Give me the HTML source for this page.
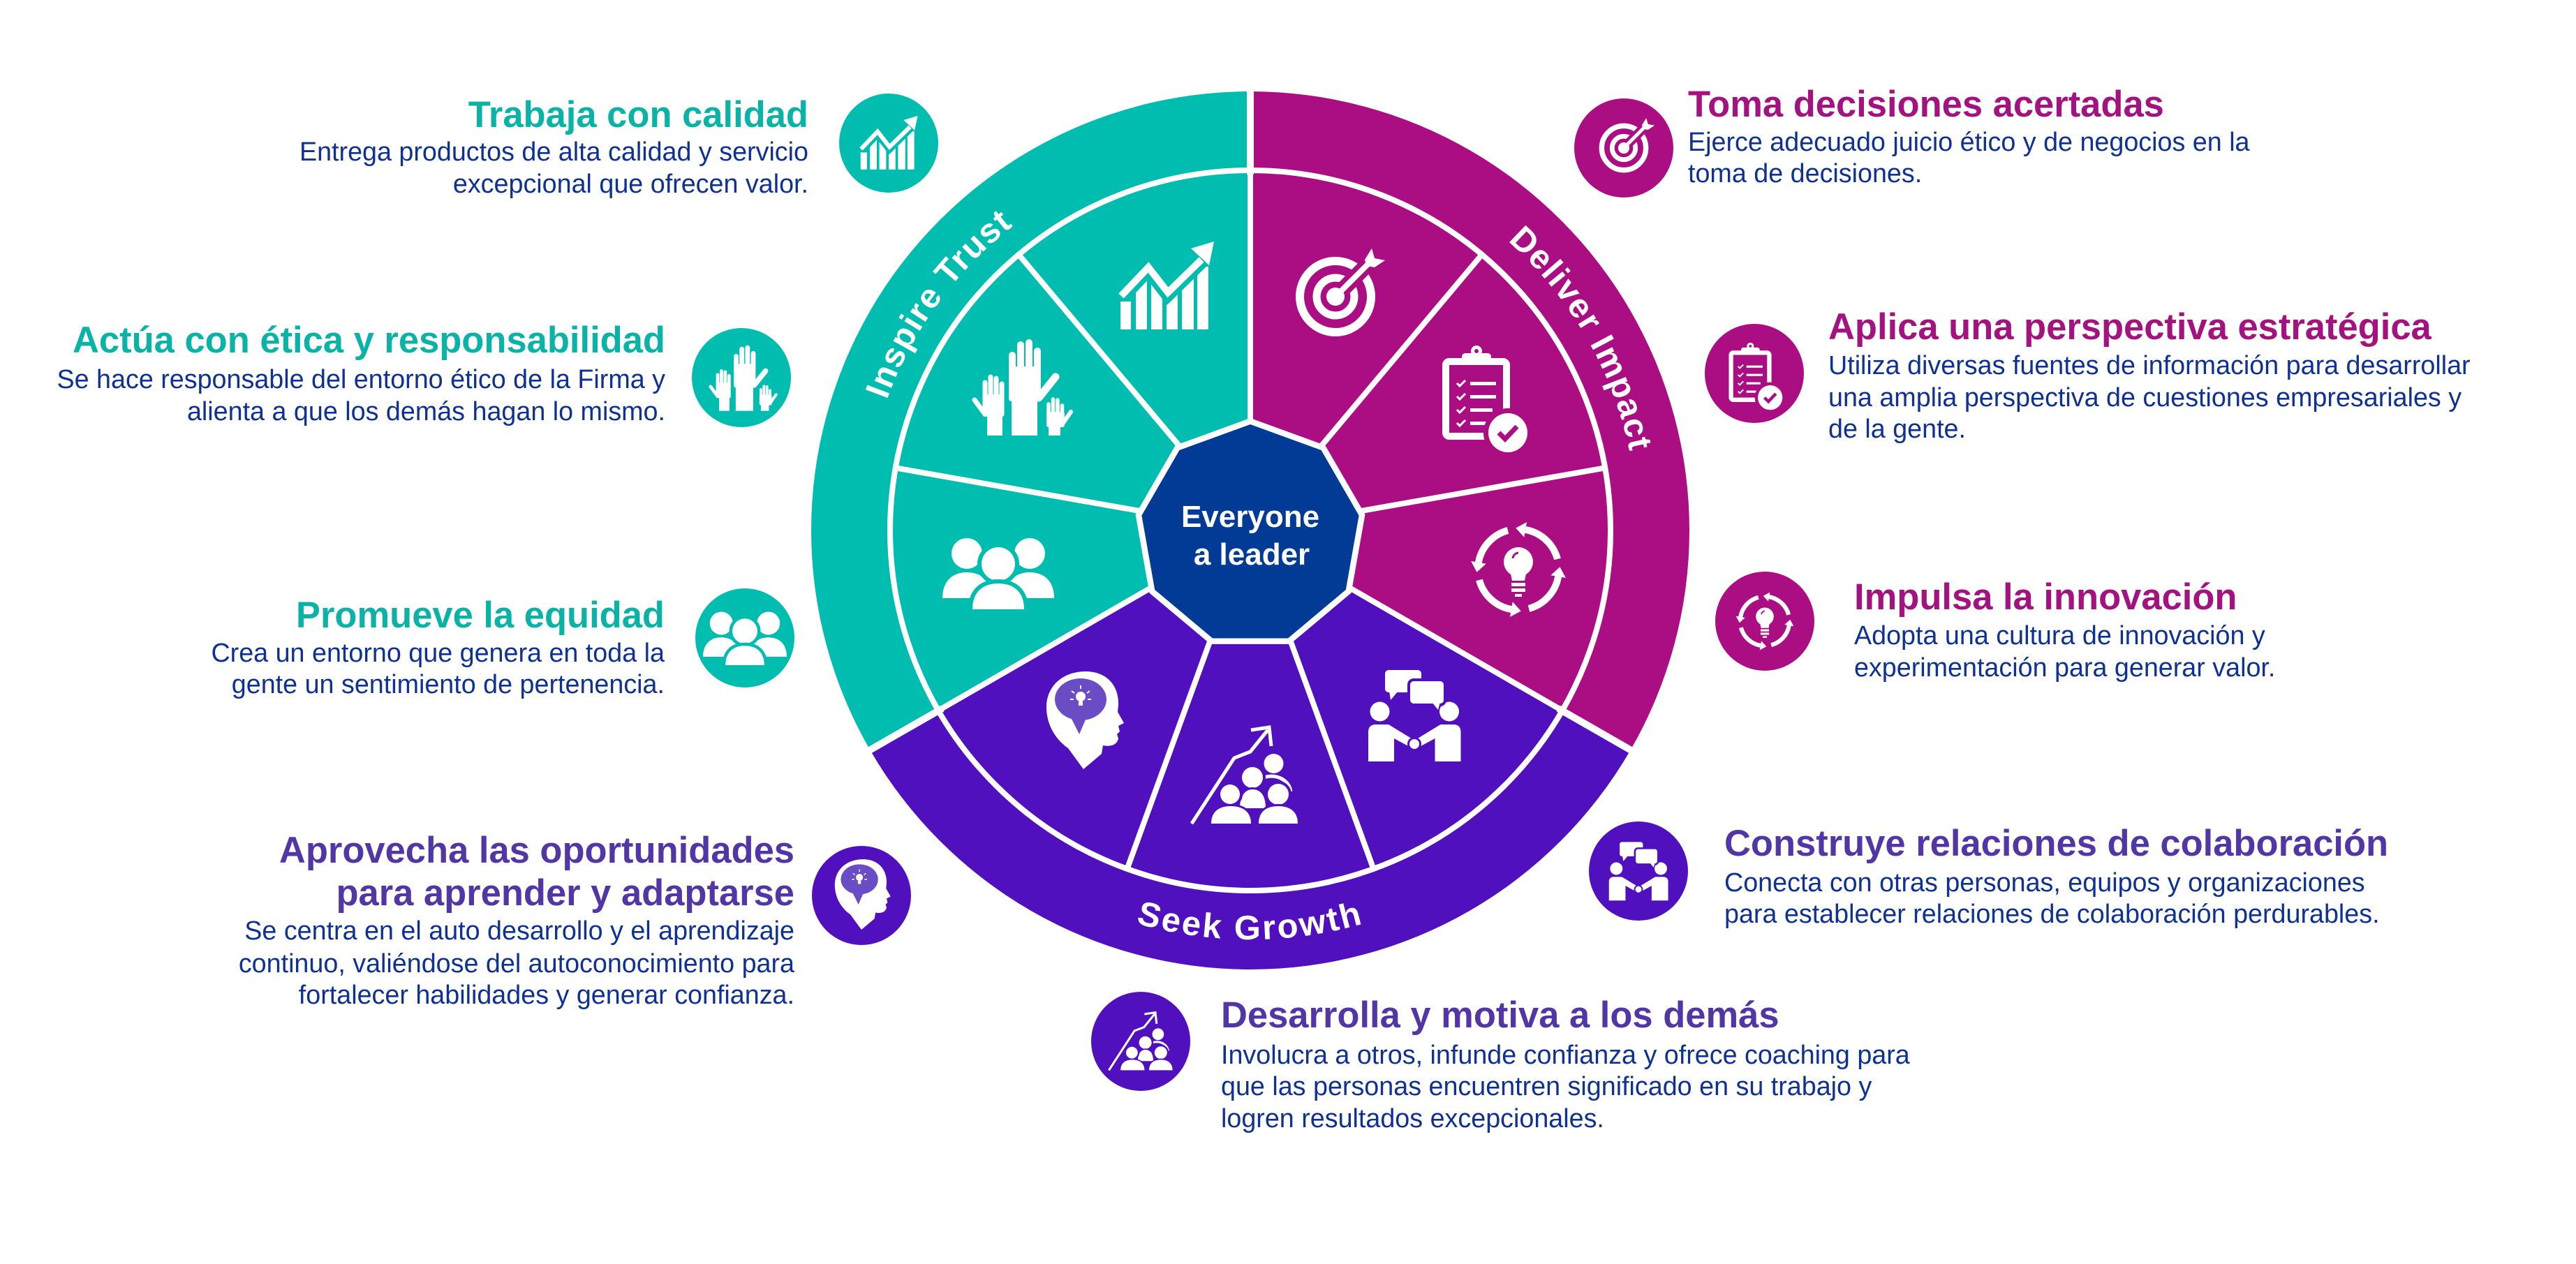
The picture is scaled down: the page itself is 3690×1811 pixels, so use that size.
<!DOCTYPE html>
<html><head><meta charset="utf-8">
<style>
html,body{margin:0;padding:0;background:#fff;}
svg{display:block}
.h{font-family:"Liberation Sans",Arial,sans-serif;font-weight:700;font-size:52.5px}
.b{font-family:"Liberation Sans",Arial,sans-serif;font-size:37.7px;fill:#0E3192}
.r{font-family:"Liberation Sans",Arial,sans-serif;font-weight:700;font-size:49px;fill:#fff;letter-spacing:1.5px}
</style></head>
<body>
<svg width="3690" height="1811" viewBox="0 0 3690 1811" xmlns="http://www.w3.org/2000/svg">
<defs>
<g id="ic_chart"><g transform="translate(-1671,-410)">
<g fill="#fff">
<rect x="1605" y="432" width="15" height="40"/>
<rect x="1627" y="402" width="16" height="70"/>
<rect x="1649" y="408" width="16" height="64"/>
<rect x="1671" y="415" width="16" height="57"/>
<rect x="1693" y="396" width="17" height="76"/>
<rect x="1715" y="382" width="16" height="90"/>
</g>
<polyline points="1606,424 1645,383 1673,419 1721,372" fill="none" stroke="currentColor" stroke-width="24" stroke-linejoin="miter"/>
<polyline points="1606,424 1645,383 1673,419 1721,372" fill="none" stroke="#fff" stroke-width="10" stroke-linejoin="miter"/>
<polygon points="1706,356 1739,346 1732,380" fill="#fff"/>
</g></g>

<g id="ic_target"><g transform="translate(-1913,-425)">
<circle cx="1913" cy="425" r="51" fill="none" stroke="#fff" stroke-width="12"/>
<circle cx="1913" cy="425" r="27" fill="none" stroke="#fff" stroke-width="11"/>
<line x1="1922" y1="416" x2="1962" y2="376" stroke="currentColor" stroke-width="22"/>
<line x1="1913" y1="425" x2="1964" y2="374" stroke="#fff" stroke-width="8"/>
<circle cx="1913" cy="425" r="13" fill="#fff"/>
<polygon points="1955,372 1965,356 1969,370 1984,373 1969,383 1957,381" fill="#fff"/>
</g></g>

<g id="ic_hands"><g transform="translate(-1461,-554)">
<g stroke="#fff" stroke-linecap="round" fill="none">
<line x1="1450" y1="540" x2="1450" y2="509" stroke-width="10"/>
<line x1="1462" y1="540" x2="1462" y2="494" stroke-width="10"/>
<line x1="1474" y1="540" x2="1474" y2="491" stroke-width="10"/>
<line x1="1486" y1="540" x2="1486" y2="503" stroke-width="10"/>
<line x1="1488" y1="570" x2="1512" y2="540" stroke-width="11"/>
<line x1="1411" y1="575" x2="1411" y2="548" stroke-width="7"/>
<line x1="1419" y1="575" x2="1419" y2="540" stroke-width="7"/>
<line x1="1427" y1="575" x2="1427" y2="542" stroke-width="7"/>
<line x1="1435" y1="575" x2="1435" y2="550" stroke-width="7"/>
<line x1="1410" y1="592" x2="1396" y2="573" stroke-width="7"/>
<line x1="1502" y1="596" x2="1502" y2="579" stroke-width="5.5"/>
<line x1="1508.5" y1="596" x2="1508.5" y2="572" stroke-width="5.5"/>
<line x1="1515" y1="596" x2="1515" y2="573" stroke-width="5.5"/>
<line x1="1521.5" y1="596" x2="1521.5" y2="581" stroke-width="5.5"/>
<line x1="1523" y1="606" x2="1534" y2="590" stroke-width="6"/>
</g>
<g fill="#fff">
<rect x="1445" y="525" width="46" height="50" rx="4"/>
<rect x="1449" y="570" width="37" height="54"/>
<rect x="1407.5" y="565" width="31" height="32" rx="3"/>
<rect x="1414" y="590" width="22" height="34"/>
<rect x="1499" y="590" width="26" height="22" rx="3"/>
<rect x="1502" y="606" width="17" height="18"/>
</g>
</g></g>

<g id="ic_people"><g transform="translate(-1430,-821)">
<g fill="#fff">
<circle cx="1385" cy="793" r="22"/>
<circle cx="1475" cy="793" r="22"/>
<path d="M1350,857 C1350,834 1363,820 1385,820 C1407,820 1420,834 1420,857 Z"/>
<path d="M1440,857 C1440,834 1453,820 1475,820 C1497,820 1510,834 1510,857 Z"/>
</g>
<circle cx="1430" cy="808" r="24" fill="#fff" stroke="currentColor" stroke-width="12" paint-order="stroke"/>
<path d="M1393,873 C1393,848 1408,836 1430,836 C1452,836 1467,848 1467,873 Z" fill="#fff" stroke="currentColor" stroke-width="12" paint-order="stroke"/>
</g></g>

<g id="ic_clip"><g transform="translate(-2124,-565)">
<rect x="2071" y="518" width="87" height="107" rx="5" fill="none" stroke="#fff" stroke-width="10"/>
<rect x="2094" y="506" width="42" height="16" rx="5" fill="#fff"/>
<circle cx="2115" cy="503" r="8" fill="#fff"/>
<circle cx="2115" cy="503" r="3" fill="currentColor"/>
<g fill="#fff">
<rect x="2106" y="547" width="37" height="5"/>
<rect x="2106" y="566" width="37" height="5"/>
<rect x="2106" y="585" width="32" height="5"/>
<rect x="2106" y="604" width="26" height="5"/>
</g>
<g fill="none" stroke="#fff" stroke-width="3">
<polyline points="2087,549 2091,553 2099,545"/>
<polyline points="2087,568 2091,572 2099,564"/>
<polyline points="2087,587 2091,591 2099,583"/>
<polyline points="2087,606 2091,610 2099,602"/>
</g>
<circle cx="2160" cy="620" r="28" fill="#fff" stroke="currentColor" stroke-width="14" paint-order="stroke"/>
<polyline points="2147,620 2156,629 2173,611" fill="none" stroke="currentColor" stroke-width="7"/>
</g></g>

<g id="ic_bulb"><g transform="translate(-2175,-816)">
<g fill="none" stroke="#fff" stroke-width="10">
<path d="M2231,801 A58,58 0 0 0 2185.1,758.9"/>
<path d="M2160,760 A58,58 0 0 0 2117.9,805.9"/>
<path d="M2119,831 A58,58 0 0 0 2164.9,873.1"/>
<path d="M2190,872 A58,58 0 0 0 2232.1,826.1"/>
</g>
<g fill="#fff">
<polygon points="2171.3,756.5 2187,748.1 2183.2,769.7"/>
<polygon points="2115.5,819.7 2107.1,804 2128.7,807.8"/>
<polygon points="2178.7,875.5 2163,883.9 2166.8,862.3"/>
<polygon points="2234.5,812.3 2242.9,828 2221.3,824.2"/>
<circle cx="2175" cy="805" r="21"/>
<path d="M2162,812 L2188,812 L2184,832 L2166,832 Z"/>
<rect x="2165" y="835" width="20" height="5"/>
<rect x="2165" y="843" width="20" height="5"/>
<rect x="2170" y="851" width="10" height="4"/>
</g>
<path d="M2167,800 A9,9 0 0 1 2175,792" fill="none" stroke="currentColor" stroke-width="3"/>
</g></g>

<g id="ic_collab"><g transform="translate(-2026,-1025)">
<g fill="#fff">
<circle cx="1976.5" cy="1019.5" r="14"/>
<circle cx="2076" cy="1019.5" r="14"/>
<path d="M1960,1091 V1049 Q1960,1038 1971,1038 H1989 L2025,1060 L2021,1071 L1997,1058 V1091 Z"/>
<path d="M2092.5,1091 V1049 Q2092.5,1038 2081.5,1038 H2063.5 L2027.5,1060 L2031.5,1071 L2055.5,1058 V1091 Z"/>
<rect x="1984" y="960" width="52" height="32" rx="5"/>
<polygon points="1990,990 1992,1003 2003,990"/>
</g>
<circle cx="2026" cy="1066" r="7" fill="#fff" stroke="currentColor" stroke-width="6" paint-order="stroke"/>
<rect x="2020" y="976" width="48" height="32" rx="5" fill="#fff" stroke="currentColor" stroke-width="8" paint-order="stroke"/>
<polygon points="2051,1006 2060,1017 2063,1006" fill="#fff"/>
</g></g>

<g id="ic_growth"><g transform="translate(-1783,-1111)">
<polyline points="1707,1180 1768,1086 1791,1077 1816,1046" fill="none" stroke="#fff" stroke-width="5"/>
<polyline points="1792,1046 1818,1042 1821,1069" fill="none" stroke="#fff" stroke-width="5"/>
<circle cx="1824.5" cy="1094" r="14" fill="#fff"/>
<path d="M1810,1114 C1830,1108 1846,1118 1849,1134" fill="none" stroke="#fff" stroke-width="5"/>
<circle cx="1794" cy="1114" r="15" fill="#fff" stroke="currentColor" stroke-width="8" paint-order="stroke"/>
<path d="M1776,1158 C1776,1140 1784,1131 1794,1131 C1806,1131 1813,1140 1813,1158 Z" fill="#fff" stroke="currentColor" stroke-width="6" paint-order="stroke"/>
<circle cx="1762" cy="1138" r="14" fill="#fff" stroke="currentColor" stroke-width="8" paint-order="stroke"/>
<path d="M1735,1180 C1735,1163 1746,1155 1763,1155 C1780,1155 1792,1163 1792,1180 Z" fill="#fff" stroke="currentColor" stroke-width="6" paint-order="stroke"/>
<circle cx="1831" cy="1138" r="15" fill="#fff" stroke="currentColor" stroke-width="8" paint-order="stroke"/>
<path d="M1803,1180 C1803,1163 1814,1155 1831,1155 C1848,1155 1859,1163 1859,1180 Z" fill="#fff" stroke="currentColor" stroke-width="6" paint-order="stroke"/>
</g></g>

<g id="ic_head"><g transform="translate(-1552,-1034)">
<path d="M1552,1102 L1530,1072 C1510,1058 1498,1035 1499,1010 C1501,980 1525,962 1555,962 C1585,962 1603,982 1602,1010 L1601,1020 L1610,1036 L1602,1040 L1604,1048 L1600,1052 L1602,1058 C1600,1068 1590,1070 1580,1068 L1578,1080 Z" fill="#fff"/>
<ellipse cx="1548" cy="1002" rx="37" ry="30" fill="#6A4CC4"/>
<polygon points="1532,1024 1558,1024 1546,1052" fill="#6A4CC4"/>
<circle cx="1548" cy="998" r="7" fill="#fff"/>
<rect x="1545" y="1005" width="6" height="6" fill="#fff"/>
<g stroke="#fff" stroke-width="2">
<line x1="1548" y1="982" x2="1548" y2="987"/>
<line x1="1535" y1="990" x2="1539" y2="993"/>
<line x1="1561" y1="990" x2="1557" y2="993"/>
<line x1="1533" y1="1002" x2="1538" y2="1002"/>
<line x1="1563" y1="1002" x2="1558" y2="1002"/>
</g>
</g></g>
</defs>

<rect width="3690" height="1811" fill="#fff"/>

<!-- Wheel sectors -->
<path d="M1791,760 L1791,131 A629,629 0 0 0 1246.3,1074.5 Z" fill="#00BDB0"/>
<path d="M1791,760 L1791,131 A629,629 0 0 1 2335.7,1074.5 Z" fill="#AA0E82"/>
<path d="M1791,760 L1246.3,1074.5 A629,629 0 0 0 2335.7,1074.5 Z" fill="#5010BD"/>

<!-- white separators -->
<g stroke="#fff" fill="none">
<circle cx="1791" cy="760" r="516" stroke-width="8"/>
<g stroke-width="8">
<line x1="1791" y1="760" x2="1791" y2="240"/>
<line x1="1791" y1="760" x2="1456.7" y2="361.7"/>
<line x1="1791" y1="760" x2="1278.9" y2="669.7"/>
<line x1="1791" y1="760" x2="1340.7" y2="1020"/>
<line x1="1791" y1="760" x2="1613.2" y2="1248.6"/>
<line x1="1791" y1="760" x2="1968.8" y2="1248.6"/>
<line x1="1791" y1="760" x2="2241.3" y2="1020"/>
<line x1="1791" y1="760" x2="2303.1" y2="669.7"/>
<line x1="1791" y1="760" x2="2125.3" y2="361.7"/>
</g>
<g stroke-width="10">
<line x1="1791" y1="250" x2="1791" y2="115"/>
<line x1="1350" y1="1015" x2="1232.4" y2="1082.5"/>
<line x1="2232" y1="1015" x2="2349.6" y2="1082.5"/>
</g>
</g>

<!-- center polygon -->
<polygon points="1791,599 1683.7,638.1 1626.5,737 1646.4,849.5 1733.9,922.9 1848.1,922.9 1935.6,849.5 1955.5,737 1898.3,638.1" fill="#fff"/>
<polygon points="1791,608 1689.4,645 1635.4,738.6 1654.2,845 1737,914.5 1845,914.5 1927.8,845 1946.6,738.6 1892.6,645" fill="#023B96"/>
<text x="1791" y="755" text-anchor="middle" font-family="Liberation Sans, Arial, sans-serif" font-weight="700" font-size="44" fill="#fff">Everyone</text>
<text x="1793" y="809" text-anchor="middle" font-family="Liberation Sans, Arial, sans-serif" font-weight="700" font-size="44" fill="#fff">a leader</text>

<!-- ring labels -->
<path id="pInspire" d="M1239.3,798.6 A553,553 0 0 1 1657.2,223.4" fill="none"/>
<path id="pDeliver" d="M1980.8,238.5 A555,555 0 0 1 2337.6,856.4" fill="none"/>
<path id="pSeek" d="M1342.1,1136.7 A586,586 0 0 0 2239.9,1136.7" fill="none"/>
<text class="r"><textPath href="#pInspire" startOffset="50%" text-anchor="middle">Inspire Trust</textPath></text>
<text class="r"><textPath href="#pDeliver" startOffset="50%" text-anchor="middle">Deliver Impact</textPath></text>
<text class="r" style="letter-spacing:3px"><textPath href="#pSeek" startOffset="50%" text-anchor="middle">Seek Growth</textPath></text>

<!-- wedge icons -->
<use href="#ic_chart" transform="translate(1671,410)" style="color:#00BDB0"/>
<use href="#ic_hands" transform="translate(1461,554)" style="color:#00BDB0"/>
<use href="#ic_people" transform="translate(1430,821)" style="color:#00BDB0"/>
<use href="#ic_target" transform="translate(1913,425)" style="color:#AA0E82"/>
<use href="#ic_clip" transform="translate(2124,565)" style="color:#AA0E82"/>
<use href="#ic_bulb" transform="translate(2175,816)" style="color:#AA0E82"/>
<use href="#ic_collab" transform="translate(2026,1025)" style="color:#5010BD"/>
<use href="#ic_growth" transform="translate(1783,1111)" style="color:#5010BD"/>
<use href="#ic_head" transform="translate(1552,1034)" style="color:#5010BD"/>

<!-- badges -->
<circle cx="1273" cy="205" r="71" fill="#00BDB0"/>
<use href="#ic_chart" transform="translate(1273,205) scale(0.61)" style="color:#00BDB0"/>
<circle cx="1062" cy="541" r="71" fill="#00BDB0"/>
<use href="#ic_hands" transform="translate(1062,541) scale(0.68)" style="color:#00BDB0"/>
<circle cx="1067" cy="914" r="71" fill="#00BDB0"/>
<use href="#ic_people" transform="translate(1067,914) scale(0.75)" style="color:#00BDB0"/>
<circle cx="2326" cy="212" r="71" fill="#AA0E82"/>
<use href="#ic_target" transform="translate(2326,212) scale(0.62)" style="color:#AA0E82"/>
<circle cx="2513" cy="535" r="71" fill="#AA0E82"/>
<use href="#ic_clip" transform="translate(2513,535) scale(0.63)" style="color:#AA0E82"/>
<circle cx="2528" cy="890" r="71" fill="#AA0E82"/>
<use href="#ic_bulb" transform="translate(2528,890) scale(0.61)" style="color:#AA0E82"/>
<circle cx="2347" cy="1248" r="71" fill="#5010BD"/>
<use href="#ic_collab" transform="translate(2347,1248) scale(0.64)" style="color:#5010BD"/>
<circle cx="1634" cy="1492" r="71" fill="#5010BD"/>
<use href="#ic_growth" transform="translate(1634,1492) scale(0.6)" style="color:#5010BD"/>
<circle cx="1234" cy="1283" r="71" fill="#5010BD"/>
<use href="#ic_head" transform="translate(1234,1283) scale(0.72)" style="color:#5010BD"/>

<!-- Left texts -->
<g text-anchor="end">
<text class="h" x="1158" y="182" fill="#0BB3A7">Trabaja con calidad</text>
<text class="b" x="1158" y="230">Entrega productos de alta calidad y servicio</text>
<text class="b" x="1158" y="276">excepcional que ofrecen valor.</text>

<text class="h" x="953" y="505" fill="#0BB3A7">Actúa con ética y responsabilidad</text>
<text class="b" x="953" y="556">Se hace responsable del entorno ético de la Firma y</text>
<text class="b" x="953" y="602">alienta a que los demás hagan lo mismo.</text>

<text class="h" x="952" y="899" fill="#0BB3A7">Promueve la equidad</text>
<text class="b" x="952" y="948">Crea un entorno que genera en toda la</text>
<text class="b" x="952" y="993">gente un sentimiento de pertenencia.</text>

<text class="h" x="1138" y="1236" fill="#5236A6">Aprovecha las oportunidades</text>
<text class="h" x="1138" y="1297" fill="#5236A6">para aprender y adaptarse</text>
<text class="b" x="1138" y="1346">Se centra en el auto desarrollo y el aprendizaje</text>
<text class="b" x="1138" y="1393">continuo, valiéndose del autoconocimiento para</text>
<text class="b" x="1138" y="1438">fortalecer habilidades y generar confianza.</text>
</g>

<!-- Right texts -->
<g>
<text class="h" x="2418" y="167" fill="#A3137F">Toma decisiones acertadas</text>
<text class="b" x="2418" y="216">Ejerce adecuado juicio ético y de negocios en la</text>
<text class="b" x="2418" y="261">toma de decisiones.</text>

<text class="h" x="2619" y="486" fill="#A3137F">Aplica una perspectiva estratégica</text>
<text class="b" x="2619" y="536">Utiliza diversas fuentes de información para desarrollar</text>
<text class="b" x="2619" y="582">una amplia perspectiva de cuestiones empresariales y</text>
<text class="b" x="2619" y="627">de la gente.</text>

<text class="h" x="2656" y="873" fill="#A3137F">Impulsa la innovación</text>
<text class="b" x="2656" y="923">Adopta una cultura de innovación y</text>
<text class="b" x="2656" y="969">experimentación para generar valor.</text>

<text class="h" x="2470" y="1226" fill="#5236A6">Construye relaciones de colaboración</text>
<text class="b" x="2470" y="1277">Conecta con otras personas, equipos y organizaciones</text>
<text class="b" x="2470" y="1322">para establecer relaciones de colaboración perdurables.</text>

<text class="h" x="1749" y="1472" fill="#5236A6">Desarrolla y motiva a los demás</text>
<text class="b" x="1749" y="1524">Involucra a otros, infunde confianza y ofrece coaching para</text>
<text class="b" x="1749" y="1569">que las personas encuentren significado en su trabajo y</text>
<text class="b" x="1749" y="1615">logren resultados excepcionales.</text>
</g>
</svg>
</body></html>
